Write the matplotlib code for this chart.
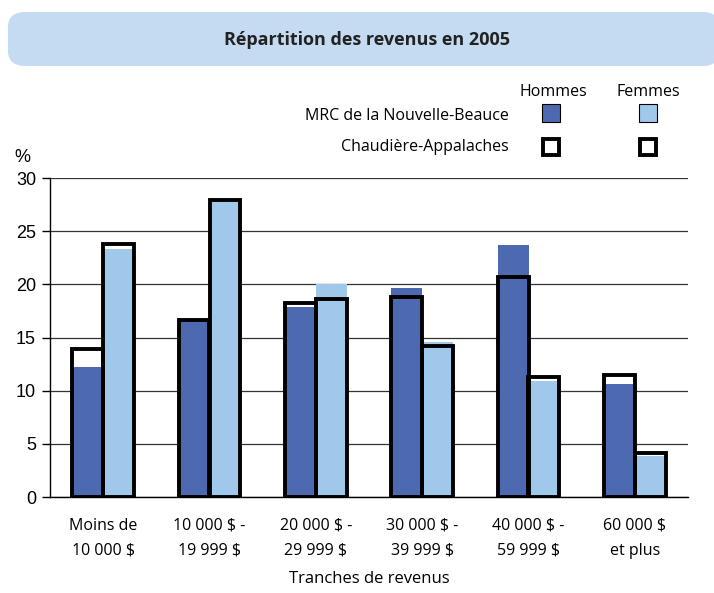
import matplotlib
matplotlib.use("Agg")
import matplotlib.pyplot as plt
from matplotlib.patches import FancyBboxPatch, Rectangle
import numpy as np

categories = ["Moins de\n10 000 $", "10 000 $ -\n19 999 $", "20 000 $ -\n29 999 $",
              "30 000 $ -\n39 999 $", "40 000 $ -\n59 999 $", "60 000 $\net plus"]
mrc_hommes = [12.2, 16.6, 17.9, 19.7, 23.7, 10.6]
mrc_femmes = [23.3, 27.9, 20.0, 14.6, 10.9, 3.9]
ca_hommes = [13.9, 16.6, 18.2, 18.8, 20.7, 11.5]
ca_femmes = [23.8, 27.9, 18.6, 14.2, 11.3, 4.1]
yticks = [0, 5, 10, 15, 20, 25, 30]

DARK = "#4d69b0"
LIGHT = "#9fc8ea"
BOX = "#c5dbf1"
W, H = 714, 593
FONT = ["Open Sans", "DejaVu Sans"]

fig = plt.figure(figsize=(W / 100, H / 100), dpi=100)

def fx(x):
    return x / W

def fy(y):
    return 1 - y / H

# Title box
box = FancyBboxPatch((fx(8), fy(66)), fx(720) - fx(8), fy(12) - fy(66),
                     boxstyle="round,pad=0,rounding_size=0.025",
                     transform=fig.transFigure, facecolor=BOX, edgecolor="none")
fig.add_artist(box)
fig.text(fx(367), fy(40), "Répartition des revenus en 2005", ha="center", va="center",
         fontsize=13, fontweight="bold", family=FONT, color="#222222")

ax = fig.add_axes([fx(50), fy(497), fx(688) - fx(50), fy(178) - fy(497)])
x = np.arange(len(categories))
w = 0.29

ax.bar(x - w / 2, mrc_hommes, w, color=DARK, edgecolor="none", zorder=2)
ax.bar(x + w / 2, mrc_femmes, w, color=LIGHT, edgecolor="none", zorder=2)
ax.bar(x - w / 2, ca_hommes, w, facecolor="none", edgecolor="black", linewidth=2.8, zorder=3)
ax.bar(x + w / 2, ca_femmes, w, facecolor="none", edgecolor="black", linewidth=2.8, zorder=3)

ax.set_xlim(-0.5, len(categories) - 0.5)
ax.set_ylim(0, 30)
ax.set_yticks(yticks)
ax.yaxis.grid(True, color="#333333", linewidth=0.9, zorder=0)
ax.set_axisbelow(True)
for s in ["top", "right"]:
    ax.spines[s].set_visible(False)
ax.spines["left"].set_linewidth(1.0)
ax.spines["bottom"].set_linewidth(1.0)
ax.tick_params(axis="y", length=6, width=1.0, labelsize=13, pad=4)
for lab in ax.get_yticklabels():
    lab.set_family(["Liberation Sans", "DejaVu Sans"])
ax.set_xticks(x)
ax.set_xticklabels(categories, fontsize=11.5, family=FONT, linespacing=1.75)
ax.tick_params(axis="x", length=0, pad=15)
ax.set_xlabel("Tranches de revenus", fontsize=12, family=FONT, labelpad=9)

fig.text(fx(22), fy(157), "%", ha="center", va="center", fontsize=13,
         family=["Liberation Sans", "DejaVu Sans"])

# Legend
fig.text(fx(553), fy(92), "Hommes", ha="center", va="center", fontsize=11.5, family=FONT)
fig.text(fx(648), fy(92), "Femmes", ha="center", va="center", fontsize=11.5, family=FONT)
fig.text(fx(509), fy(116), "MRC de la Nouvelle-Beauce", ha="right", va="center", fontsize=11.5, family=FONT)
fig.text(fx(509), fy(147), "Chaudière-Appalaches", ha="right", va="center", fontsize=11.5, family=FONT)
sq = 18
for cx, col in [(551, DARK), (648, LIGHT)]:
    fig.add_artist(Rectangle((fx(cx - sq / 2), fy(113 + sq / 2)), sq / W, sq / H,
                             transform=fig.transFigure, facecolor=col,
                             edgecolor="black", linewidth=0.8))
    fig.add_artist(Rectangle((fx(cx - sq / 2 + 1), fy(147 + sq / 2 - 1)), (sq - 2) / W, (sq - 2) / H,
                             transform=fig.transFigure, facecolor="white",
                             edgecolor="black", linewidth=2.8))

fig.savefig("out.png", dpi=100)
